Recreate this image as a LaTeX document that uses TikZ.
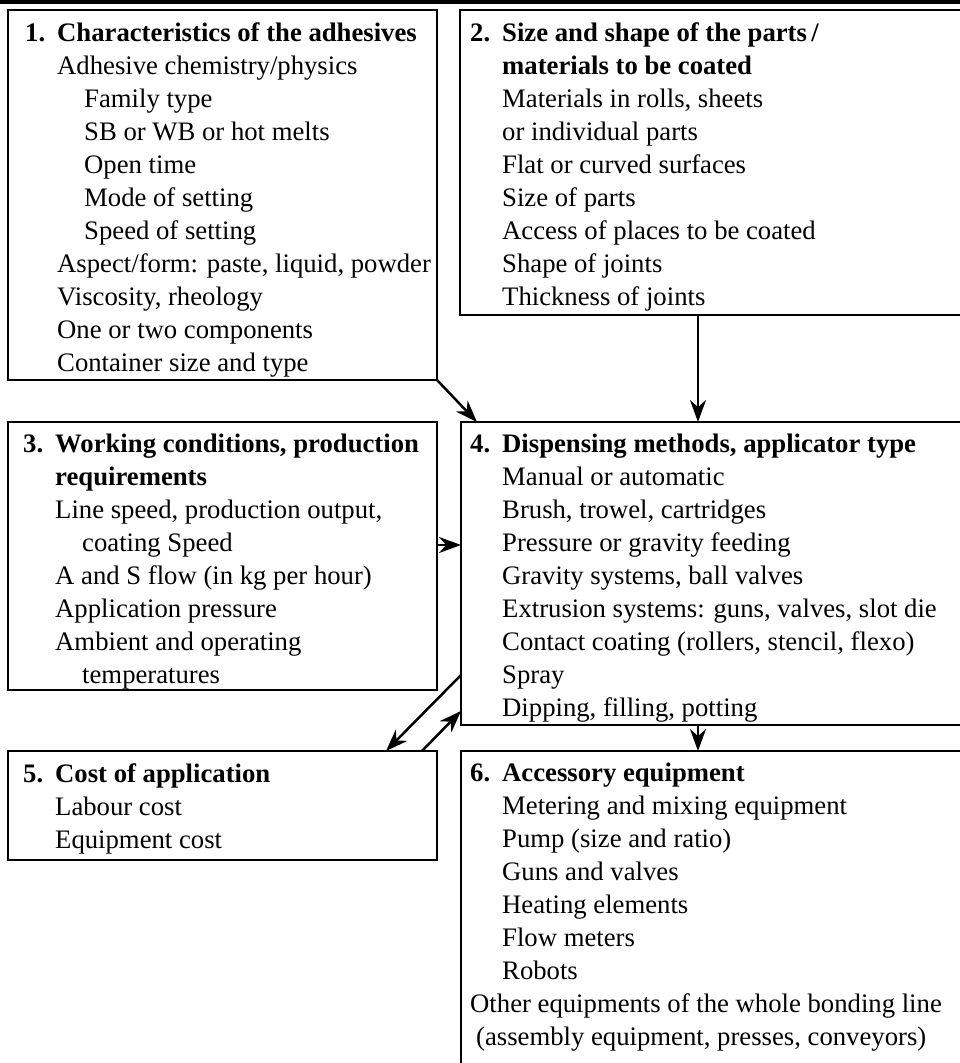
\documentclass[tikz,border=0pt]{standalone}
\usepackage{fontspec}
\setmainfont{Liberation Serif}
\usepackage{tikz}
\usetikzlibrary{arrows.meta}

\newcommand\hd[2]{\makebox[32pt][l]{\textbf{#1}}\textbf{#2}}
\newcommand\ia{\hspace*{32pt}}
\newcommand\ib{\hspace*{59pt}}

\tikzset{
  panel/.style={draw, line width=1.3pt, anchor=north west, inner sep=0pt, outer sep=0pt},
  ptext/.style={anchor=north west, align=left, inner sep=0pt, font=\fontsize{26.7}{33}\selectfont},
  flow/.style={line width=2.5pt, -{Stealth[length=22pt,width=16pt]}}
}

\begin{document}
\begin{tikzpicture}[x=1pt,y=-1pt]
  \useasboundingbox (0,0) rectangle (960,1063);
  \draw[line width=4pt] (0,2) -- (960,2);
  % the six boxes
  \foreach \n/\x/\y/\w/\h in {1/8/10/429/370, 2/460/10/560/305, 3/8/422/429/268,
      4/461/422/560/303, 5/8/751/429/109, 6/461/751/560/400}{
    \node[panel, minimum width=\w pt, minimum height=\h pt] (b\n) at (\x,\y) {};
  }
  % texts
  \node[ptext] (t1) at ([xshift=17pt,yshift=-12pt]b1.north west) {\hd{1.}{Characteristics of the adhesives}\\
    \ia Adhesive chemistry/physics\\
    \ib Family type\\
    \ib SB or WB or hot melts\\
    \ib Open time\\
    \ib Mode of setting\\
    \ib Speed of setting\\
    \ia Aspect/form: paste, liquid, powder\\
    \ia Viscosity, rheology\\
    \ia One or two components\\
    \ia Container size and type};
  \node[ptext] (t2) at ([xshift=10pt,yshift=-12pt]b2.north west) {\hd{2.}{Size and shape of the parts\,/}\\
    \ia\textbf{materials to be coated}\\
    \ia Materials in rolls, sheets\\
    \ia or individual parts\\
    \ia Flat or curved surfaces\\
    \ia Size of parts\\
    \ia Access of places to be coated\\
    \ia Shape of joints\\
    \ia Thickness of joints};
  \node[ptext] (t3) at ([xshift=15pt,yshift=-12pt]b3.north west) {\hd{3.}{Working conditions, production}\\
    \ia\textbf{requirements}\\
    \ia Line speed, production output,\\
    \ib coating Speed\\
    \ia A and S flow (in kg per hour)\\
    \ia Application pressure\\
    \ia Ambient and operating\\
    \ib temperatures};
  \node[ptext] (t4) at ([xshift=9pt,yshift=-12pt]b4.north west) {\hd{4.}{Dispensing methods, applicator type}\\
    \ia Manual or automatic\\
    \ia Brush, trowel, cartridges\\
    \ia Pressure or gravity feeding\\
    \ia Gravity systems, ball valves\\
    \ia Extrusion systems: guns, valves, slot die\\
    \ia Contact coating (rollers, stencil, flexo)\\
    \ia Spray\\
    \ia Dipping, filling, potting};
  \node[ptext] (t5) at ([xshift=15pt,yshift=-12pt]b5.north west) {\hd{5.}{Cost of application}\\
    \ia Labour cost\\
    \ia Equipment cost};
  \node[ptext] (t6) at ([xshift=9pt,yshift=-12pt]b6.north west) {\hd{6.}{Accessory equipment}\\
    \ia Metering and mixing equipment\\
    \ia Pump (size and ratio)\\
    \ia Guns and valves\\
    \ia Heating elements\\
    \ia Flow meters\\
    \ia Robots\\
    Other equipments of the whole bonding line\\
    \hspace*{6pt}(assembly equipment, presses, conveyors)};
  % arrows
  \draw[flow] (b1.south east) -- ([xshift=16pt]b4.north west);
  \draw[flow] ([xshift=238pt]b2.south west) -- ([xshift=237pt]b4.north west);
  \draw[flow] ([yshift=-123pt]b3.north east) -- ([yshift=-123pt]b4.north west);
  \draw[flow] ([yshift=-253pt]b4.north west) -- ([xshift=378pt]b5.north west);
  \draw[flow] ([xshift=414pt]b5.north west) -- ([yshift=-289pt]b4.north west);
  \draw[flow] ([xshift=237pt]b4.south west) -- ([xshift=237pt]b6.north west);
\end{tikzpicture}
\end{document}
